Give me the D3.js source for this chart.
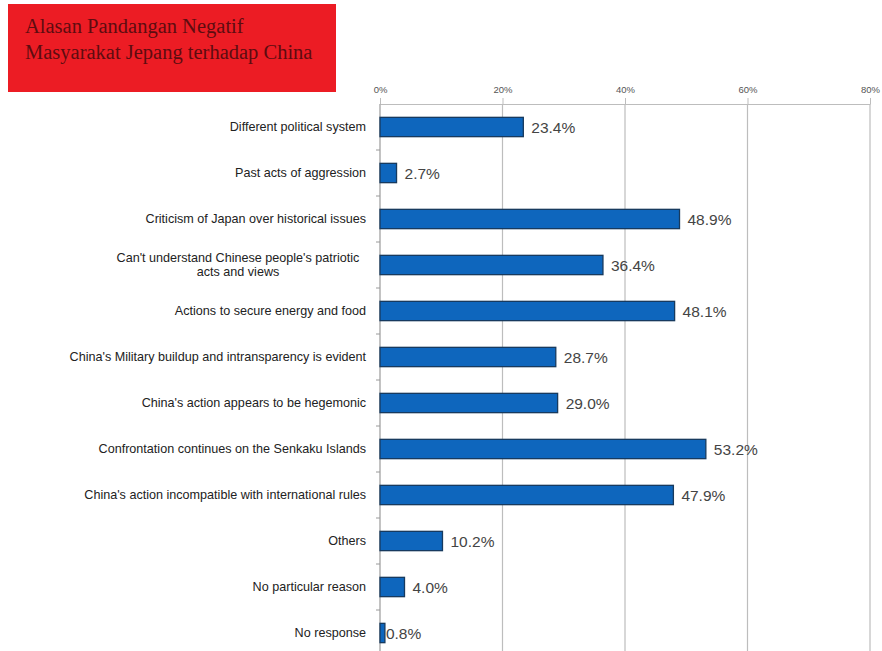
<!DOCTYPE html>
<html>
<head>
<meta charset="utf-8">
<script src="https://cdn.jsdelivr.net/npm/d3@7"></script>
<style>
  body { margin: 0; background: white; }
  svg { display: block; }
</style>
</head>
<body>
<svg id="chart" width="882" height="651"></svg>
<script>
/* DATA */

const titleLines = ['Alasan Pandangan Negatif', 'Masyarakat Jepang terhadap China']

const categories = [
  ['Different political system'],
  ['Past acts of aggression'],
  ['Criticism of Japan over historical issues'],
  ["Can't understand Chinese people's patriotic", 'acts and views'],
  ['Actions to secure energy and food'],
  ["China's Military buildup and intransparency is evident"],
  ["China's action appears to be hegemonic"],
  ['Confrontation continues on the Senkaku Islands'],
  ["China's action incompatible with international rules"],
  ['Others'],
  ['No particular reason'],
  ['No response']
]

const values = [23.4, 2.7, 48.9, 36.4, 48.1, 28.7, 29.0, 53.2, 47.9, 10.2, 4.0, 0.8]

const xTicks = [0, 20, 40, 60, 80]

/* COLOURS */
const titleRed = '#ec1c24'
const titleText = '#5e0c10'
const barBlue = '#0e66bd'
const barEdge = '#173a5e'
const gridGrey = '#bdbdbd'

const svg = d3.select('#chart')

/* Title box */
const title = svg.append('g')

title.append('rect')
    .attr('x', 8)
    .attr('y', 4)
    .attr('width', 328)
    .attr('height', 88)
    .attr('fill', titleRed)

titleLines.forEach((line, i) => {
  title.append('text')
      .attr('x', 25)
      .attr('y', 33 + i * 26)
      .attr('font-family', 'Liberation Serif, Times New Roman, serif')
      .attr('font-size', 20.5)
      .attr('fill', titleText)
      .text(line)
})

/* Scales */
const x = d3.scaleLinear().domain([0, 80]).range([380, 870])
const y = d3.scaleBand()
    .domain(d3.range(categories.length))
    .range([104, 656])
    .paddingInner(0.58)
    .paddingOuter(0.29)

const g = svg.append('g')

// Gridlines
g.selectAll('.grid')
  .data(xTicks.slice(1))
  .enter().append('line')
    .attr('x1', d => x(d))
    .attr('x2', d => x(d))
    .attr('y1', 104)
    .attr('y2', 651)
    .attr('stroke', gridGrey)
    .attr('stroke-width', 1.2)

// Top axis
const topAxis = g.append('g')
    .attr('transform', 'translate(0,104)')
    .call(d3.axisTop(x).tickValues(xTicks).tickFormat(d => d + '%').tickSize(6).tickSizeOuter(0))

topAxis.select('.domain').attr('stroke', gridGrey).attr('stroke-width', 1.2)
topAxis.selectAll('.tick line').attr('stroke', gridGrey)
topAxis.selectAll('.tick text')
    .attr('font-family', 'Liberation Sans, Arial, sans-serif')
    .attr('font-size', 9.5)
    .attr('fill', '#555')
    .attr('dy', '-0.2em')

// Left axis line
g.append('line')
    .attr('x1', x(0))
    .attr('x2', x(0))
    .attr('y1', 104)
    .attr('y2', 651)
    .attr('stroke', '#9a9a9a')
    .attr('stroke-width', 1.2)

// Category ticks between bands
g.selectAll('.ytick')
  .data(d3.range(1, categories.length))
  .enter().append('line')
    .attr('x1', x(0) - 4)
    .attr('x2', x(0))
    .attr('y1', d => y(d) - y.step() * y.paddingInner() / 2)
    .attr('y2', d => y(d) - y.step() * y.paddingInner() / 2)
    .attr('stroke', '#9a9a9a')

// Bars
g.selectAll('.bar')
  .data(values)
  .enter().append('rect')
    .attr('x', x(0))
    .attr('y', (d, i) => y(i))
    .attr('width', d => x(d) - x(0))
    .attr('height', y.bandwidth())
    .attr('fill', barBlue)
    .attr('stroke', barEdge)
    .attr('stroke-width', 1.3)

// Value labels
g.selectAll('.val')
  .data(values)
  .enter().append('text')
    .attr('x', d => x(d) + (d < 1 ? 1 : 8))
    .attr('y', (d, i) => y(i) + y.bandwidth() / 2 + 6)
    .attr('font-family', 'Liberation Sans, Arial, sans-serif')
    .attr('font-size', 15.5)
    .attr('fill', '#444')
    .text(d => d.toFixed(1) + '%')

// Category labels
categories.forEach((lines, i) => {
  const cy = y(i) + y.bandwidth() / 2
  const t = g.append('text')
      .attr('font-family', 'Liberation Sans, Arial, sans-serif')
      .attr('font-size', 12.6)
      .attr('fill', '#222')
      .attr('text-anchor', lines.length > 1 ? 'middle' : 'end')
  lines.forEach((line, j) => {
    t.append('tspan')
        .attr('x', lines.length > 1 ? 238 : 366)
        .attr('y', cy + 4 + (j - (lines.length - 1) / 2) * 14)
        .text(line)
  })
})
</script>
</body>
</html>
